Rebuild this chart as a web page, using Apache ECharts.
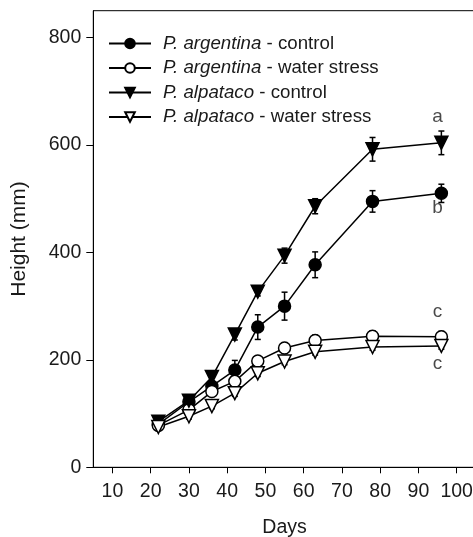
<!DOCTYPE html>
<html>
<head>
<meta charset="utf-8">
<script src="https://cdn.jsdelivr.net/npm/echarts@6/dist/echarts.min.js"></script>
<style>
html,body{margin:0;padding:0;background:#fff;}
#chart{width:473px;height:537px;}
</style>
</head>
<body>
<div id="chart"></div>
<script>
var days = [22, 30, 36, 42, 48, 55, 63, 78, 96];
var argControl = [80, 122, 151, 181, 261, 300, 377, 495, 510];
var argControlErr = [6, 8, 10, 18, 23, 26, 24, 20, 17];
var argStress = [78, 107, 141, 160, 198, 222, 236, 244, 243];
var argStressErr = [5, 6, 7, 8, 8, 10, 10, 10, 10];
var alpControl = [85, 124, 168, 247, 327, 394, 486, 592, 604];
var alpControlErr = [5, 7, 10, 10, 8, 14, 14, 22, 22];
var alpStress = [75, 95, 114, 138, 175, 197, 215, 224, 226];
var alpStressErr = [4, 5, 5, 6, 6, 6, 6, 6, 6];
var seriesNames = ['P. argentina - control', 'P. argentina - water stress', 'P. alpataco - control', 'P. alpataco - water stress'];
var letterDays = [95, 95, 95, 95];
var letterValues = [652, 483, 290, 193];
var letterTexts = ['a', 'b', 'c', 'c'];
var xTicks = [10, 20, 30, 40, 50, 60, 70, 80, 90, 100];
var yTicks = [0, 200, 400, 600, 800];

var FONT = '"Liberation Sans", Arial, sans-serif';
var chart = echarts.init(document.getElementById('chart'), null, {renderer: 'canvas'});

function pairs(vals){ return days.map(function(d,i){ return [d, vals[i]]; }); }
function errData(vals, errs){ return days.map(function(d,i){ return [d, vals[i], errs[i]]; }); }

function errSeries(vals, errs){
  return {
    type: 'custom',
    silent: true,
    z: 1,
    data: errData(vals, errs),
    renderItem: function(params, api){
      var x = api.value(0), m = api.value(1), e = api.value(2);
      var top = api.coord([x, m + e]);
      var bot = api.coord([x, m - e]);
      var cap = 3;
      var st = {stroke: '#000', lineWidth: 1.5};
      return {type: 'group', children: [
        {type: 'line', shape: {x1: top[0], y1: top[1], x2: bot[0], y2: bot[1]}, style: st},
        {type: 'line', shape: {x1: top[0]-cap, y1: top[1], x2: top[0]+cap, y2: top[1]}, style: st},
        {type: 'line', shape: {x1: bot[0]-cap, y1: bot[1], x2: bot[0]+cap, y2: bot[1]}, style: st}
      ]};
    }
  };
}

function lineSeries(name, vals, symbol, filled, rotate, size){
  return {
    name: name,
    type: 'line',
    data: pairs(vals),
    symbol: symbol,
    symbolRotate: rotate,
    symbolSize: size,
    showAllSymbol: true,
    z: 3,
    lineStyle: {color: '#000', width: 1.5},
    itemStyle: {color: filled ? '#000' : '#fff', borderColor: '#000', borderWidth: 1.5, opacity: 1},
    emphasis: {disabled: true},
    animation: false
  };
}

var option = {
  animation: false,
  backgroundColor: '#fff',
  grid: {left: 93.3, top: 10.7, right: -2.8, bottom: 69.7, show: true, borderColor: '#000', borderWidth: 1,
    containLabel: false, outerBoundsMode: 'none'},
  xAxis: {
    type: 'value', min: 5, max: 105,
    name: 'Days', nameLocation: 'middle', nameGap: 50,
    nameTextStyle: {fontFamily: FONT, fontSize: 19.5, color: '#1a1a1a'},
    axisLine: {show: true, lineStyle: {color: '#000', width: 1}},
    axisTick: {show: true, length: 6, inside: false, lineStyle: {color: '#000'}, customValues: xTicks},
    axisLabel: {fontFamily: FONT, fontSize: 19.5, color: '#1a1a1a', margin: 14, customValues: xTicks},
    splitLine: {show: false}
  },
  yAxis: {
    type: 'value', min: 0, max: 850,
    name: 'Height (mm)', nameLocation: 'middle', nameGap: 64, nameRotate: 90,
    nameTextStyle: {fontFamily: FONT, fontSize: 21, color: '#1a1a1a'},
    axisLine: {show: true, lineStyle: {color: '#000', width: 1}},
    axisTick: {show: true, length: 7, lineStyle: {color: '#000'}, customValues: yTicks},
    axisLabel: {fontFamily: FONT, fontSize: 19.5, color: '#1a1a1a', margin: 12, customValues: yTicks},
    splitLine: {show: false}
  },
  legend: {
    orient: 'vertical', left: 103, top: 29,
    itemWidth: 42, itemHeight: 12, itemGap: 5.5,
    selectedMode: false,
    data: seriesNames,
    formatter: function(name){
      var parts = name.split(' - ');
      return '{i|' + parts[0] + '}{n| - ' + parts[1] + '}';
    },
    textStyle: {
      fontFamily: FONT, fontSize: 18.7, color: '#1a1a1a', padding: [0,0,0,7],
      rich: {
        i: {fontFamily: FONT, fontSize: 18.7, fontStyle: 'italic', color: '#1a1a1a'},
        n: {fontFamily: FONT, fontSize: 18.7, color: '#1a1a1a'}
      }
    }
  },
  series: [
    errSeries(argControl, argControlErr),
    errSeries(argStress, argStressErr),
    errSeries(alpControl, alpControlErr),
    errSeries(alpStress, alpStressErr),
    lineSeries(seriesNames[0], argControl, 'circle', true, 0, 12),
    lineSeries(seriesNames[1], argStress, 'circle', false, 0, 12),
    lineSeries(seriesNames[2], alpControl, 'triangle', true, 180, 13),
    lineSeries(seriesNames[3], alpStress, 'triangle', false, 180, 13),
    {
      type: 'scatter', silent: true, z: 5,
      symbolSize: 0,
      data: letterDays.map(function(d,i){ return [d, letterValues[i], letterTexts[i]]; }),
      label: {show: true, position: 'inside', fontFamily: FONT, fontSize: 19, color: '#1a1a1a',
        formatter: function(p){ return p.value[2]; }}
    }
  ]
};
chart.setOption(option);
</script>
</body>
</html>
